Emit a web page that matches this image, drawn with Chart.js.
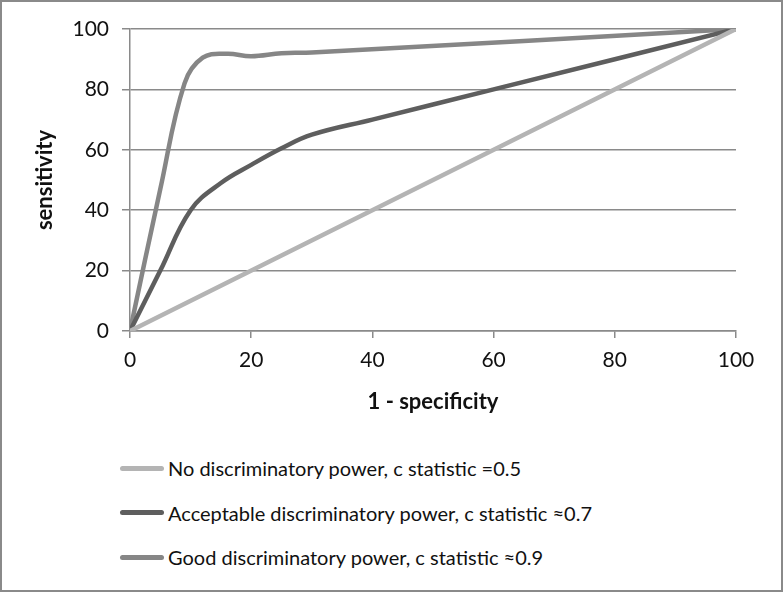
<!DOCTYPE html>
<html>
<head>
<meta charset="utf-8">
<script src="https://cdn.jsdelivr.net/npm/chart.js@4/dist/chart.umd.min.js"></script>
<style>
  html, body { margin: 0; padding: 0; background: #fff; }
  #frame { position: absolute; left: 0; top: 0; width: 783px; height: 592px; box-sizing: border-box; border: 2px solid #8a8a8a; background: #fff; }
  #wrap { position: absolute; left: 0; top: 0; width: 783px; height: 420px; }
  #legend { position: absolute; left: 120px; top: 446px; font-family: Lato, "Open Sans", sans-serif; font-size: 20px; color: #111; }
  .item { display: flex; align-items: center; height: 44.5px; }
  .swatch { width: 44px; height: 5px; border-radius: 3px; margin-right: 4px; }
</style>
</head>
<body>
<div id="frame"></div>
<div id="wrap"><canvas id="c" width="783" height="420"></canvas></div>
<div id="legend"></div>
<script>
// ---- data ----
const seriesNames = [
  "No discriminatory power, c statistic =0.5",
  "Acceptable discriminatory power, c statistic \u22480.7",
  "Good discriminatory power, c statistic \u22480.9"
];
const noneX = [0, 100];
const noneY = [0, 100];
const acceptX = [0, 5, 10, 15, 20, 25, 30, 40, 60, 100];
const acceptY = [0, 20, 40, 49, 55, 60.5, 65, 70, 80, 100];
const goodX = [0, 5, 9, 12, 16, 20, 25, 30, 100];
const goodY = [0, 47, 82, 90.5, 91.8, 91, 92, 92.2, 100];
const xTicks = [0, 20, 40, 60, 80, 100];
const yTicks = [0, 20, 40, 60, 80, 100];
const colors = ["#b4b4b4", "#5e5e5e", "#868686"];

function pts(xs, ys) { return xs.map((x, i) => ({ x: x, y: ys[i] })); }

const datasets = [
  { label: seriesNames[0], data: pts(noneX, noneY), borderColor: colors[0], tension: 0 },
  { label: seriesNames[1], data: pts(acceptX, acceptY), borderColor: colors[1], tension: 0.4 },
  { label: seriesNames[2], data: pts(goodX, goodY), borderColor: colors[2], tension: 0.4 }
].map(d => Object.assign(d, { showLine: true, pointRadius: 0, borderWidth: 4.5, fill: false, borderCapStyle: 'round' }));

const font = "Lato, 'Open Sans', sans-serif";

new Chart(document.getElementById('c'), {
  type: 'scatter',
  data: { datasets: datasets },
  options: {
    responsive: false,
    animation: false,
    layout: { padding: { top: 29, right: 47, left: 0, bottom: 0 } },
    plugins: { legend: { display: false }, tooltip: { enabled: false } },
    scales: {
      x: {
        type: 'linear', min: 0, max: 100,
        afterFit: s => { s.height = 89; },
        afterBuildTicks: s => { s.ticks = xTicks.map(v => ({ value: v })); },
        grid: { display: true, drawOnChartArea: false, drawTicks: true, tickLength: 7, color: '#8a8a8a', lineWidth: 1.5 },
        border: { display: true, color: '#8a8a8a', width: 1.5 },
        ticks: { color: '#111', font: { family: font, size: 21 }, padding: 10, maxRotation: 0 },
        title: { display: true, text: '1 - specificity', color: '#111', font: { family: font, size: 22, weight: 'bold' }, padding: { top: 0, bottom: 5 } }
      },
      y: {
        type: 'linear', min: 0, max: 100,
        afterFit: s => { s.width = 130; },
        afterBuildTicks: s => { s.ticks = yTicks.map(v => ({ value: v })); },
        grid: { display: true, drawTicks: true, tickLength: 8, color: '#8a8a8a', lineWidth: 1.5 },
        border: { display: true, color: '#8a8a8a', width: 1.5 },
        ticks: { color: '#111', font: { family: font, size: 21 }, padding: 13 },
        title: { display: true, text: 'sensitivity', color: '#111', font: { family: font, size: 22, weight: 'bold' }, padding: { top: 32, bottom: 0 } }
      }
    }
  }
});

const legend = document.getElementById('legend');
seriesNames.forEach((name, i) => {
  const row = document.createElement('div');
  row.className = 'item';
  const sw = document.createElement('div');
  sw.className = 'swatch';
  sw.style.background = colors[i];
  const tx = document.createElement('span');
  tx.textContent = name;
  row.appendChild(sw);
  row.appendChild(tx);
  legend.appendChild(row);
});
</script>
</body>
</html>
